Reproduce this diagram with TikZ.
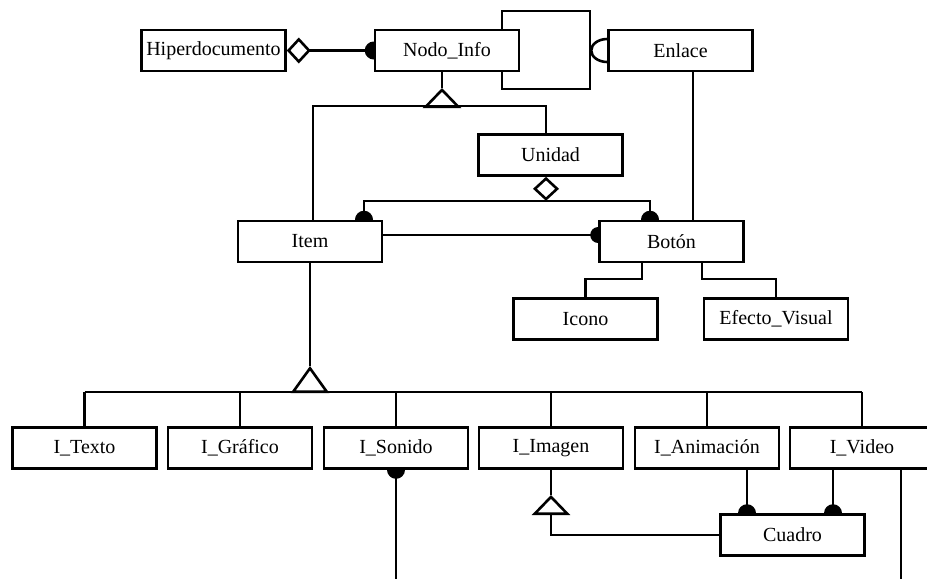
\documentclass[tikz,border=0pt]{standalone}
\usepackage{fontspec}
\setmainfont{Liberation Serif}
\usepackage{tikz}
\usetikzlibrary{arrows.meta,backgrounds}

\begin{document}
\begin{tikzpicture}[x=1pt,y=-1pt,line width=2.6pt,
  clase/.style={draw,fill=white,minimum width=144pt,minimum height=41pt,inner sep=0pt,font=\fontsize{20}{24}\selectfont},
  agrega/.style={-{Diamond[open,length=24pt,width=26pt]}},
  hereda/.style={-{Triangle[open,length=20pt,width=38pt]}}]
\useasboundingbox (0,0) rectangle (927,579);
\clip (0,0) rectangle (927,579);
\node[clase] (hiper) at (213.5,50.5) {Hiperdocumento};
\node[clase] (nodo) at (447,50.5) {Nodo\_Info};
\node[clase] (enlace) at (680.5,50.5) {Enlace};
\node[clase] (unidad) at (550.5,155) {Unidad};
\node[clase] (item) at (310,241.5) {Item};
\node[clase] (boton) at (671.5,241.5) {Botón};
\node[clase] (icono) at (585.5,319) {Icono};
\node[clase] (efecto) at (776,319) {Efecto\_Visual};
\node[clase] (itexto) at (84.5,448) {I\_Texto};
\node[clase] (igrafico) at (240,448) {I\_Gráfico};
\node[clase] (isonido) at (396,448) {I\_Sonido};
\node[clase] (iimagen) at (551,448) {I\_Imagen};
\node[clase] (ianim) at (707,448) {I\_Animación};
\node[clase] (ivideo) at (862,448) {I\_Video};
\node[clase] (cuadro) at (792.5,535) {Cuadro};
\coordinate (lz1) at (502,11);
\coordinate (lz2) at (590,89);
\coordinate (en) at (693,0);
\coordinate (a1) at (442,88);
\coordinate (g1) at (442,106);
\coordinate (b1) at (313,106);
\coordinate (b2) at (546,106);
\coordinate (u0) at (546,201);
\coordinate (u1) at (364,201);
\coordinate (u2) at (650,201);
\coordinate (ib) at (0,235);
\coordinate (bi) at (642,279);
\coordinate (be) at (702,279);
\coordinate (a2) at (0,366);
\coordinate (barra) at (0,392);
\coordinate (a3) at (0,495);
\coordinate (c1) at (747,0);
\coordinate (c2) at (833,0);
\coordinate (c3) at (901,0);
\coordinate (fondo) at (0,579);
\begin{scope}[on background layer]
\begin{scope}[line width=2.6pt]
\draw[agrega] (nodo.west) -- (hiper.east);
\fill (nodo.west) circle (9pt);
\draw (nodo.north -| lz1) -- (lz1) -| (lz2) -| (nodo.south -| lz1);
\draw (enlace.west) ++(0,-11.5) arc[start angle=270,end angle=90,x radius=16,y radius=11.5];
\draw (enlace.south -| en) -- (boton.north -| en);
\draw (a1) -- (nodo.south -| a1);
\draw[hereda] (g1) -- (a1);
\draw (item.north -| b1) -- (b1) -- (b2) -- (unidad.north -| b2);
\draw[agrega] (u0) -- (unidad.south -| u0);
\draw (item.north -| u1) -- (u1) -- (u2) -- (boton.north -| u2);
\fill (item.north -| u1) circle (9pt);
\fill (boton.north -| u2) circle (9pt);
\draw (item.east |- ib) -- (boton.west |- ib);
\fill (boton.west |- ib) circle (8pt);
\draw (boton.south -| bi) -- (bi) -| (icono.north);
\draw (boton.south -| be) -- (be) -| (efecto.north);
\draw (item.south) -- (item.south |- a2);
\draw[-{Triangle[open,length=27pt,width=38pt]}] (item.south |- barra) -- (item.south |- a2);
\draw (barra -| itexto) -- (barra -| ivideo);
\foreach \n in {itexto,igrafico,isonido,iimagen,ianim,ivideo}
  \draw (barra -| \n) -- (\n.north);
\draw (isonido.south) -- (isonido.south |- fondo);
\fill (isonido.south) circle (9pt);
\draw (iimagen.south) -- (iimagen.south |- a3);
\draw[hereda] (cuadro.west) -| (iimagen.south |- a3);
\draw (ianim.south -| c1) -- (cuadro.north -| c1);
\fill (cuadro.north -| c1) circle (9pt);
\draw (ivideo.south -| c2) -- (cuadro.north -| c2);
\fill (cuadro.north -| c2) circle (9pt);
\draw (ivideo.south -| c3) -- (c3 |- fondo);
\end{scope}
\end{scope}
\end{tikzpicture}
\end{document}
